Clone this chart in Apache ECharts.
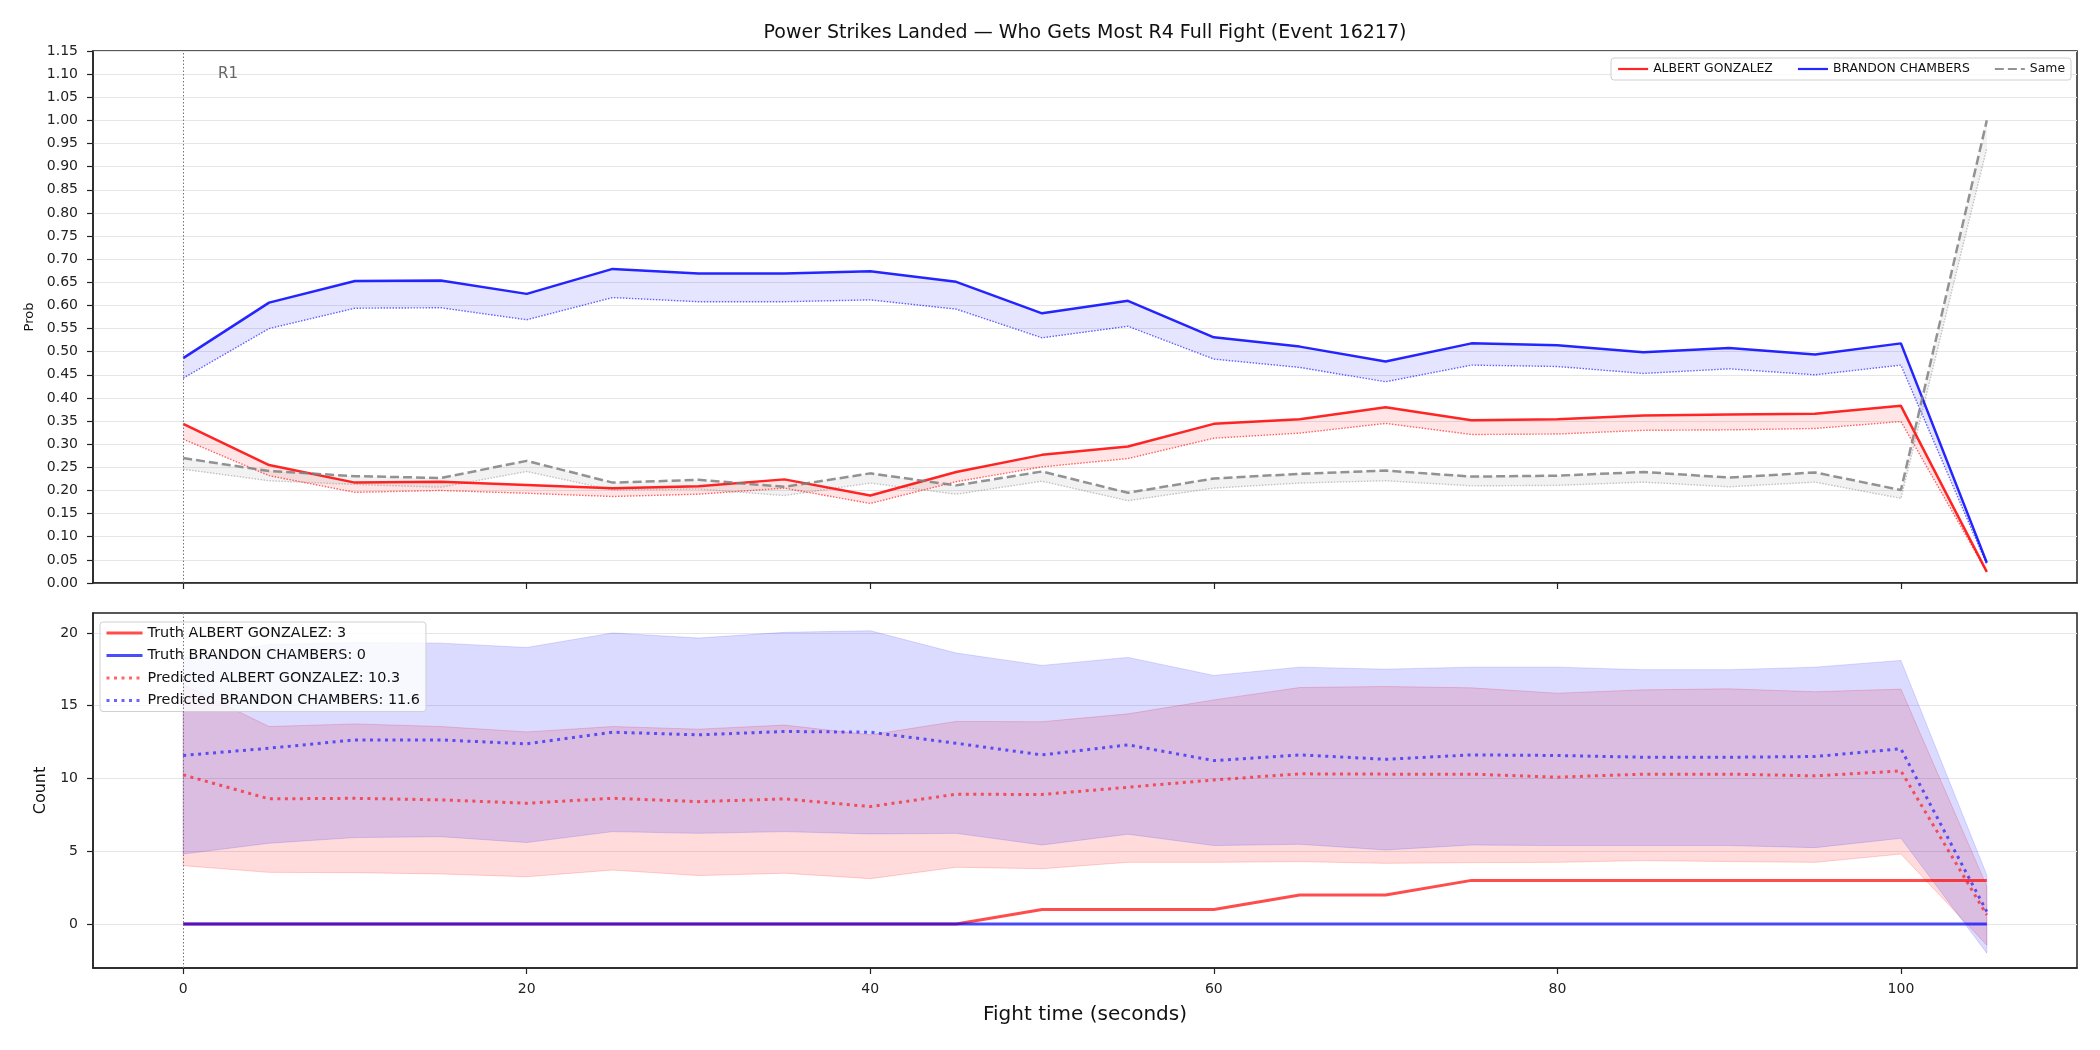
<!DOCTYPE html>
<html>
<head>
<meta charset="utf-8">
<script src="https://cdn.jsdelivr.net/npm/echarts@6/dist/echarts.min.js"></script>
<style>
  html, body { margin: 0; padding: 0; background: #fff; }
  #chart { width: 2100px; height: 1050px; }
</style>
</head>
<body>
<div id="chart"></div>
<script>
// fight time (seconds)
const times = [0, 5, 10, 15, 20, 25, 30, 35, 40, 45, 50, 55, 60, 65, 70, 75, 80, 85, 90, 95, 100, 105]

// top panel: probability of getting most power strikes
const aProb     = [0.344, 0.255, 0.217, 0.219, 0.212, 0.205, 0.209, 0.224, 0.189, 0.240, 0.277, 0.295, 0.344, 0.354, 0.380, 0.352, 0.354, 0.362, 0.364, 0.366, 0.383, 0.024]
const aProbPred = [0.311, 0.232, 0.196, 0.200, 0.194, 0.187, 0.192, 0.205, 0.172, 0.219, 0.251, 0.269, 0.313, 0.324, 0.345, 0.321, 0.322, 0.330, 0.331, 0.334, 0.349, 0.024]
const bProb     = [0.486, 0.606, 0.653, 0.654, 0.625, 0.679, 0.669, 0.669, 0.674, 0.651, 0.583, 0.610, 0.531, 0.511, 0.479, 0.518, 0.514, 0.499, 0.508, 0.494, 0.518, 0.044]
const bProbPred = [0.443, 0.550, 0.594, 0.595, 0.569, 0.617, 0.608, 0.608, 0.612, 0.592, 0.530, 0.555, 0.484, 0.466, 0.435, 0.471, 0.468, 0.453, 0.463, 0.450, 0.471, 0.040]
const sameProb     = [0.270, 0.242, 0.231, 0.227, 0.264, 0.217, 0.223, 0.208, 0.237, 0.211, 0.241, 0.195, 0.226, 0.236, 0.243, 0.230, 0.232, 0.240, 0.228, 0.239, 0.201, 1.000]
const sameProbPred = [0.246, 0.221, 0.213, 0.207, 0.241, 0.201, 0.203, 0.189, 0.216, 0.192, 0.220, 0.178, 0.205, 0.216, 0.221, 0.210, 0.211, 0.218, 0.208, 0.218, 0.183, 0.940]

// bottom panel: counts
const aTruth = [0, 0, 0, 0, 0, 0, 0, 0, 0, 0, 1, 1, 1, 2, 2, 3, 3, 3, 3, 3, 3, 3]
const bTruth = [0, 0, 0, 0, 0, 0, 0, 0, 0, 0, 0, 0, 0, 0, 0, 0, 0, 0, 0, 0, 0, 0]
const aPred = [10.25, 8.6, 8.64, 8.53, 8.3, 8.64, 8.41, 8.6, 8.07, 8.92, 8.9, 9.4, 9.9, 10.32, 10.3, 10.3, 10.09, 10.3, 10.3, 10.18, 10.52, 0.62]
const bPred = [11.58, 12.08, 12.65, 12.65, 12.38, 13.18, 13.0, 13.23, 13.18, 12.42, 11.62, 12.31, 11.23, 11.62, 11.32, 11.62, 11.58, 11.46, 11.46, 11.51, 12.04, 0.85]
const aLow  = [4.01, 3.55, 3.53, 3.44, 3.25, 3.71, 3.33, 3.49, 3.12, 3.9, 3.8, 4.24, 4.24, 4.29, 4.17, 4.22, 4.24, 4.36, 4.29, 4.24, 4.81, -1.45]
const aHigh = [16.44, 13.57, 13.75, 13.57, 13.2, 13.57, 13.39, 13.67, 13.0, 13.92, 13.9, 14.44, 15.4, 16.25, 16.32, 16.23, 15.86, 16.09, 16.16, 15.96, 16.14, 2.6]
const bLow  = [4.81, 5.55, 5.94, 6.0, 5.6, 6.35, 6.23, 6.35, 6.19, 6.23, 5.43, 6.17, 5.39, 5.48, 5.09, 5.43, 5.39, 5.39, 5.39, 5.25, 5.89, -2.0]
const bHigh = [18.3, 19.2, 19.35, 19.3, 19.0, 20.0, 19.65, 20.04, 20.15, 18.62, 17.77, 18.32, 17.08, 17.65, 17.51, 17.65, 17.65, 17.47, 17.47, 17.65, 18.11, 3.37]

const xTicks = [0, 20, 40, 60, 80, 100]
const countTicks = [0, 5, 10, 15, 20]

const FONT = 'DejaVu Sans'
const pairs = ys => times.map((t, i) => [t, ys[i]])

// filled band between two curves, drawn as one polygon through the axis scales
function band (axis, lo, hi, fill, edge) {
  const rows = times.map((t, i) => [t, Math.min(lo[i], hi[i]), Math.max(lo[i], hi[i])])
  return {
    type: 'custom', xAxisIndex: axis, yAxisIndex: axis, silent: true,
    data: rows, encode: { x: 0, y: [1, 2] },
    renderItem: (params, api) => {
      if (params.dataIndex !== 0) return
      const upper = rows.map(r => api.coord([r[0], r[2]]))
      const lower = rows.map(r => api.coord([r[0], r[1]])).reverse()
      return {
        type: 'polygon',
        shape: { points: upper.concat(lower) },
        style: { fill: fill, stroke: edge || null, lineWidth: 1 }
      }
    }
  }
}

function line (name, axis, ys, color, opacity, width, type, extra) {
  return Object.assign({
    name: name, type: 'line', xAxisIndex: axis, yAxisIndex: axis,
    symbol: 'none', silent: true, data: pairs(ys),
    itemStyle: { color: color },
    lineStyle: { color: color, opacity: opacity, width: width, type: type, cap: 'butt' }
  }, extra || {})
}

const vline = {
  symbol: 'none', silent: true, label: { show: false },
  lineStyle: { color: '#777', type: [1.5, 2], width: 1 },
  data: [{ xAxis: 0 }]
}

const series = [
  band(0, aProb, aProbPred, 'rgba(255,0,0,0.1)'),
  band(0, bProb, bProbPred, 'rgba(0,0,255,0.1)'),
  band(0, sameProb, sameProbPred, 'rgba(128,128,128,0.1)'),
  line('a_pred_prob', 0, aProbPred, '#ff0000', 0.6, 1.4, [1.5, 1.5]),
  line('b_pred_prob', 0, bProbPred, '#0000ff', 0.6, 1.4, [1.5, 1.5]),
  line('s_pred_prob', 0, sameProbPred, '#808080', 0.45, 1.4, [1.5, 1.5]),
  line('ALBERT GONZALEZ', 0, aProb, '#ff0000', 0.85, 2.5, 'solid', { markLine: vline }),
  line('BRANDON CHAMBERS', 0, bProb, '#0000ff', 0.85, 2.5, 'solid'),
  line('Same', 0, sameProb, '#808080', 0.85, 2.5, [9, 4], {
    markPoint: {
      symbol: 'rect', symbolSize: 1, silent: true,
      itemStyle: { color: 'rgba(0,0,0,0)' },
      label: { show: true, position: 'right', distance: 0, formatter: 'R1', color: '#666', fontSize: 15, fontFamily: FONT },
      data: [{ coord: [2.0, 1.1] }]
    }
  }),
  band(1, aLow, aHigh, 'rgba(255,0,0,0.14)', 'rgba(255,0,0,0.18)'),
  band(1, bLow, bHigh, 'rgba(0,0,255,0.14)', 'rgba(0,0,255,0.14)'),
  line('Truth ALBERT GONZALEZ: 3', 1, aTruth, '#ff0000', 0.7, 3, 'solid', { markLine: vline }),
  line('Truth BRANDON CHAMBERS: 0', 1, bTruth, '#0000ff', 0.7, 3, 'solid'),
  line('Predicted ALBERT GONZALEZ: 10.3', 1, aPred, '#ff0000', 0.6, 3, [3, 4.5]),
  line('Predicted BRANDON CHAMBERS: 11.6', 1, bPred, '#0000ff', 0.6, 3, [3, 4.5])
]

const axisLineStyle = { color: '#222', width: 1.5 }
const tickStyle = { color: '#222', width: 1.2 }
const legendBox = {
  selectedMode: false,
  itemStyle: { opacity: 0 },
  borderColor: '#d0d0d0', borderWidth: 1, borderRadius: 3,
  backgroundColor: 'rgba(255,255,255,0.8)'
}

const chart = echarts.init(document.getElementById('chart'))
chart.setOption({
  animation: false,
  textStyle: { fontFamily: FONT },
  graphic: [{
    type: 'text', x: 1085, y: 33,
    style: {
      text: 'Power Strikes Landed — Who Gets Most R4 Full Fight (Event 16217)',
      font: '19px "DejaVu Sans"', fill: '#111', textAlign: 'center', textVerticalAlign: 'middle'
    }
  }],
  grid: [
    { left: 93, right: 23, top: 51, height: 532, show: true, borderColor: '#222', borderWidth: 1.5 },
    { left: 93, right: 23, top: 613, height: 355, show: true, borderColor: '#222', borderWidth: 1.5 }
  ],
  legend: [
    Object.assign({
      data: ['ALBERT GONZALEZ', 'BRANDON CHAMBERS', 'Same'],
      orient: 'horizontal', right: 29, top: 58,
      itemWidth: 30, itemHeight: 10, itemGap: 24, padding: [5, 6],
      lineStyle: { width: 2.2 },
      textStyle: { fontSize: 12.4, color: '#111', fontFamily: FONT }
    }, legendBox),
    Object.assign({
      data: ['Truth ALBERT GONZALEZ: 3', 'Truth BRANDON CHAMBERS: 0', 'Predicted ALBERT GONZALEZ: 10.3', 'Predicted BRANDON CHAMBERS: 11.6'],
      orient: 'vertical', left: 100, top: 622,
      itemWidth: 36, itemHeight: 14, itemGap: 8.5, padding: [4, 6, 4, 5],
      lineStyle: { width: 3 },
      textStyle: { fontSize: 14.4, color: '#111', fontFamily: FONT }
    }, legendBox)
  ],
  xAxis: [
    {
      gridIndex: 0, type: 'value', min: -5.25, max: 110.25,
      axisLine: { onZero: false, lineStyle: axisLineStyle },
      axisTick: { show: true, customValues: xTicks, length: 6, lineStyle: tickStyle },
      axisLabel: { show: false },
      splitLine: { show: false }
    },
    {
      gridIndex: 1, type: 'value', min: -5.25, max: 110.25,
      name: 'Fight time (seconds)', nameLocation: 'middle', nameGap: 37,
      nameTextStyle: { fontSize: 20, color: '#111', fontFamily: FONT },
      axisLine: { onZero: false, lineStyle: axisLineStyle },
      axisTick: { show: true, customValues: xTicks, length: 6, lineStyle: tickStyle },
      axisLabel: { customValues: xTicks, fontSize: 14, color: '#222', margin: 14 },
      splitLine: { show: false }
    }
  ],
  yAxis: [
    {
      gridIndex: 0, type: 'value', min: 0, max: 1.15, interval: 0.05,
      name: 'Prob', nameLocation: 'middle', nameGap: 57,
      nameTextStyle: { fontSize: 13, color: '#111', fontFamily: FONT },
      axisLine: { show: true, onZero: false, lineStyle: axisLineStyle },
      axisTick: { show: true, length: 6, lineStyle: tickStyle },
      axisLabel: { fontSize: 14, color: '#222', margin: 15, formatter: v => v.toFixed(2) },
      splitLine: { lineStyle: { color: '#e6e6e6', width: 1 } }
    },
    {
      gridIndex: 1, type: 'value', min: -3.02, max: 21.37, splitNumber: 5,
      name: 'Count', nameLocation: 'middle', nameGap: 42,
      nameTextStyle: { fontSize: 16, color: '#111', fontFamily: FONT },
      axisLine: { show: true, onZero: false, lineStyle: axisLineStyle },
      axisTick: { show: true, customValues: countTicks, length: 6, lineStyle: tickStyle },
      axisLabel: { customValues: countTicks, fontSize: 14, color: '#222', margin: 15 },
      splitLine: { lineStyle: { color: '#e6e6e6', width: 1 } }
    }
  ],
  series: series
})
</script>
</body>
</html>
